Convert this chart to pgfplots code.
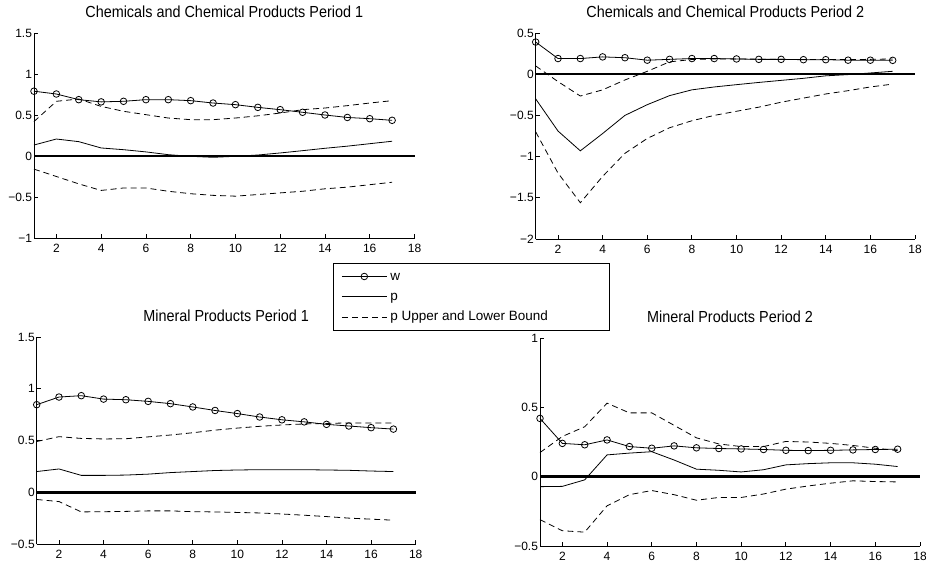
\documentclass[border=0pt]{standalone}
\usepackage{pgfplots}
\pgfplotsset{compat=1.18}
\usepackage{pgfplotstable}
\usepackage{fontspec}
\setmainfont{Liberation Sans}
\newfontfamily\titlefont{Liberation Sans}[FakeStretch=0.9]

\pgfplotstableread{
x w p up lo
1 0.79 0.134 0.42 -0.16
2 0.756 0.207 0.667 -0.25
3 0.687 0.175 0.695 -0.34
4 0.66 0.098 0.605 -0.42
5 0.667 0.077 0.545 -0.39
6 0.687 0.05 0.504 -0.39
7 0.687 0.016 0.463 -0.43
8 0.675 -0.004 0.443 -0.46
9 0.646 -0.016 0.443 -0.48
10 0.626 -0.004 0.463 -0.49
11 0.593 0.012 0.49 -0.47
12 0.565 0.037 0.524 -0.45
13 0.533 0.065 0.565 -0.43
14 0.50 0.094 0.585 -0.40
15 0.47 0.12 0.614 -0.38
16 0.455 0.15 0.646 -0.35
17 0.435 0.18 0.675 -0.32
}\chemA

\pgfplotstableread{
x w p up lo
1 0.39 -0.30 0.10 -0.70
2 0.19 -0.69 -0.09 -1.20
3 0.19 -0.93 -0.265 -1.56
4 0.21 -0.72 -0.19 -1.24
5 0.20 -0.50 -0.07 -0.96
6 0.17 -0.37 0.035 -0.78
7 0.18 -0.26 0.15 -0.65
8 0.19 -0.19 0.178 -0.565
9 0.19 -0.155 0.185 -0.50
10 0.185 -0.127 0.185 -0.45
11 0.18 -0.10 0.182 -0.40
12 0.18 -0.075 0.18 -0.34
13 0.176 -0.05 0.178 -0.29
14 0.176 -0.02 0.178 -0.24
15 0.17 -0.005 0.178 -0.20
16 0.17 0.015 0.18 -0.155
17 0.168 0.035 0.185 -0.12
}\chemB

\pgfplotstableread{
x w p up lo
1 0.846 0.20 0.49 -0.07
2 0.92 0.225 0.537 -0.09
3 0.933 0.163 0.52 -0.19
4 0.90 0.163 0.515 -0.188
5 0.894 0.166 0.517 -0.185
6 0.878 0.175 0.535 -0.18
7 0.856 0.19 0.553 -0.18
8 0.824 0.20 0.575 -0.188
9 0.79 0.21 0.60 -0.19
10 0.76 0.215 0.62 -0.195
11 0.727 0.218 0.637 -0.20
12 0.70 0.218 0.65 -0.21
13 0.68 0.218 0.66 -0.222
14 0.656 0.215 0.665 -0.235
15 0.64 0.212 0.67 -0.25
16 0.624 0.205 0.67 -0.26
17 0.61 0.20 0.67 -0.27
}\minA

\pgfplotstableread{
x w p up lo
1 0.42 -0.072 0.174 -0.31
2 0.24 -0.07 0.29 -0.39
3 0.23 -0.023 0.36 -0.40
4 0.265 0.157 0.53 -0.21
5 0.217 0.17 0.46 -0.13
6 0.205 0.18 0.46 -0.10
7 0.222 0.12 0.37 -0.13
8 0.208 0.054 0.28 -0.17
9 0.203 0.046 0.236 -0.15
10 0.20 0.034 0.217 -0.15
11 0.196 0.05 0.217 -0.125
12 0.19 0.085 0.254 -0.09
13 0.188 0.094 0.25 -0.067
14 0.19 0.10 0.24 -0.047
15 0.193 0.10 0.225 -0.03
16 0.196 0.09 0.205 -0.035
17 0.198 0.073 0.188 -0.038
}\minB

\pgfplotsset{
  panel/.style={
    scale only axis, anchor=south west,
    axis lines=left, axis line style={-, line width=0.8bp},
    tick align=inside, major tick length=4bp,
    tick style={line width=0.8bp, black},
    xmin=1, xmax=18, xtick={2,4,...,18},
    clip=false,
    /pgf/number format/assume math mode=true,
    tick label style={font=\fontsize{12bp}{14bp}\selectfont},
    xticklabel style={yshift=-3bp},
    yticklabel style={xshift=1.5bp},
    title style={font=\titlefont\fontsize{16bp}{18bp}\selectfont, yshift=6bp},
  },
  mylegimg/.style={legend image code/.code={\draw[mark repeat=2,mark phase=2,##1] plot coordinates {(0bp,0bp) (22.5bp,0bp) (45bp,0bp)};}},
  wline/.style={black, line width=0.8bp, mark=o, mark size=3.3bp, mark options={solid, line width=0.8bp}, mylegimg},
  pline/.style={black, line width=0.8bp, no marks, mylegimg},
  bline/.style={black, line width=0.8bp, no marks, dash pattern=on 6bp off 4bp, mylegimg},
  zline/.style={black, line width=2.6bp, no marks, forget plot},
}

\begin{document}
\begin{tikzpicture}
\useasboundingbox (0,0) rectangle (926bp,567bp);

\begin{axis}[panel, at={(34bp,329bp)}, width=380.5bp, height=205bp,
  ymin=-1, ymax=1.5, ytick={-1,-0.5,0,0.5,1,1.5}, yticklabels={−1,−0.5,0,0.5,1,1.5},
  title={Chemicals and Chemical Products Period 1},
  legend style={at={(0.7858,-0.122)}, anchor=north west, draw=black, line width=0.8bp,
    font=\fontsize{13.5bp}{16bp}\selectfont, inner xsep=8bp, inner ysep=3bp, row sep=0bp,
    nodes={inner sep=3.1bp, text height=10.5bp, text depth=3.5bp}},
  legend cell align=left,
]
\addplot[zline] coordinates {(1,0) (18,0)};
\addplot[wline] table[x=x,y=w] {\chemA};
\addlegendentry{w}
\addplot[pline] table[x=x,y=p] {\chemA};
\addlegendentry{p}
\addplot[bline] table[x=x,y=up] {\chemA};
\addlegendentry{p Upper and Lower Bound\hspace*{50bp}}
\addplot[bline, forget plot] table[x=x,y=lo] {\chemA};
\end{axis}

\begin{axis}[panel, at={(535.7bp,328bp)}, width=379.3bp, height=206bp,
  ymin=-2, ymax=0.5, ytick={-2,-1.5,-1,-0.5,0,0.5}, yticklabels={−2,−1.5,−1,−0.5,0,0.5},
  title={Chemicals and Chemical Products Period 2}]
\addplot[zline] coordinates {(1,0) (18,0)};
\addplot[wline] table[x=x,y=w] {\chemB};
\addplot[pline] table[x=x,y=p] {\chemB};
\addplot[bline] table[x=x,y=up] {\chemB};
\addplot[bline] table[x=x,y=lo] {\chemB};
\end{axis}

\begin{axis}[panel, at={(36.7bp,23bp)}, width=379bp, height=207bp,
  ymin=-0.5, ymax=1.5, ytick={-0.5,0,0.5,1,1.5}, yticklabels={−0.5,0,0.5,1,1.5},
  title={Mineral Products Period 1}]
\addplot[zline] coordinates {(1,0) (18,0)};
\addplot[wline] table[x=x,y=w] {\minA};
\addplot[pline] table[x=x,y=p] {\minA};
\addplot[bline] table[x=x,y=up] {\minA};
\addplot[bline] table[x=x,y=lo] {\minA};
\end{axis}

\begin{axis}[panel, at={(540bp,21bp)}, width=380bp, height=208bp,
  ymin=-0.5, ymax=1, ytick={-0.5,0,0.5,1}, yticklabels={−0.5,0,0.5,1},
  title={Mineral Products Period 2}]
\addplot[zline] coordinates {(1,0) (18,0)};
\addplot[wline] table[x=x,y=w] {\minB};
\addplot[pline] table[x=x,y=p] {\minB};
\addplot[bline] table[x=x,y=up] {\minB};
\addplot[bline] table[x=x,y=lo] {\minB};
\end{axis}
\end{tikzpicture}
\end{document}
